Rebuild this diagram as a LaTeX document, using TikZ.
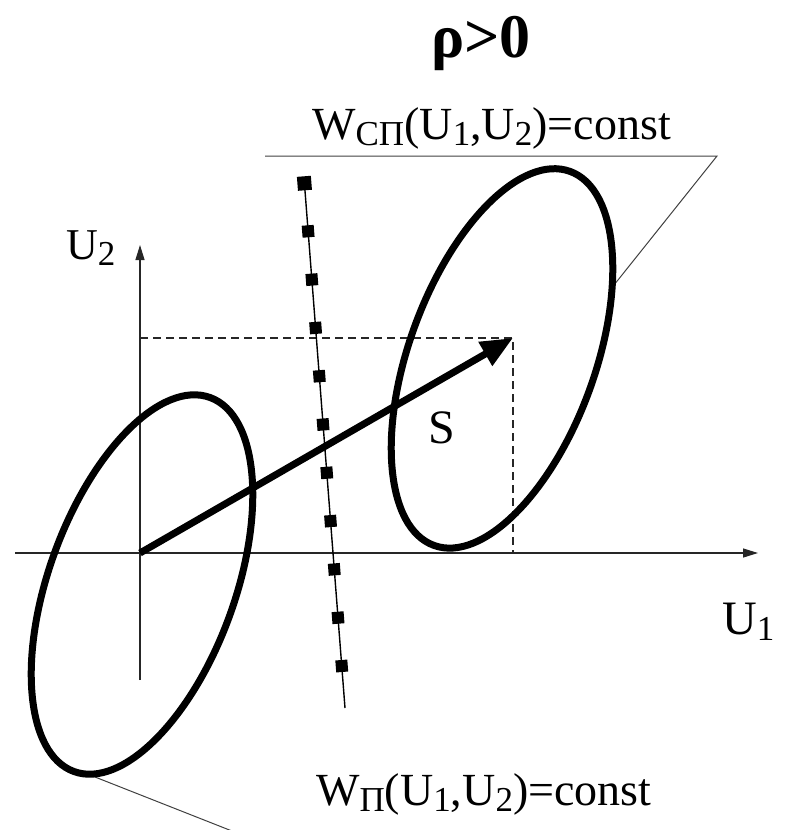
\documentclass[tikz,border=0pt]{standalone}
\usepackage{fontspec}
\setmainfont{Liberation Serif}
\usetikzlibrary{arrows.meta}
\newcommand{\mysub}[1]{\raisebox{-6pt}{\fontsize{35}{35}\selectfont #1}}
\begin{document}
\begin{tikzpicture}[x=1pt,y=-1pt,
  axisline/.style={line width=1.3pt, black!85, -{Triangle[length=15pt,width=9pt]}},
  ell/.style={line width=7pt},
  dashline/.style={line width=1.2pt, black!85, dash pattern=on 8pt off 5pt},
  planeline/.style={line width=1pt, black!75},
  vecarrow/.style={line width=7pt, -{Triangle[length=32pt,width=26pt]}},
  sq/.style={fill, minimum size=12pt, inner sep=0pt, rotate=4.4},
  lbl/.style={inner sep=0pt, anchor=base west}]
\useasboundingbox (0,0) rectangle (785,830);
% coordinates
\coordinate (O) at (140,553);
\coordinate (xs) at (15,553);
\coordinate (xe) at (758,553);
\coordinate (ys) at (140,680);
\coordinate (ye) at (140,245);
\coordinate (P) at (513,338);
\coordinate (Px) at (513,553);
\coordinate (Py) at (140,338);
\coordinate (EL) at (142,584.5);
\coordinate (ER) at (502,358.4);
\coordinate (T1) at (265,156);
\coordinate (T2) at (717,156);
\coordinate (T3) at (614,285);
\coordinate (B1) at (95,777);
\coordinate (B2) at (232,831);
\coordinate (D1) at (304,178);
\coordinate (D2) at (345,708);
% axes
\draw[axisline] (xs) -- (xe);
\draw[axisline] (ys) -- (ye);
% dashed projections
\draw[dashline] (Py) -- (P) -- (Px);
% planes
\draw[planeline] (T1) -- (T2) -- (T3);
\draw[planeline] (B1) -- (B2);
% dotted (square-marked) line
\draw[line width=1.4pt] (D1) -- (D2)
  foreach \k in {1,...,10} { node[sq, pos={(5+48.3*\k)/530}] {} }
  node[sq, minimum size=14pt, pos=0.01] {};
% ellipses
\draw[ell, rotate around={-20:(EL)}] (EL) ellipse [x radius=93pt, y radius=199pt];
\draw[ell, rotate around={-20:(ER)}] (ER) ellipse [x radius=93pt, y radius=199pt];
% vector S
\draw[vecarrow] (O) -- (P);
% labels
\node[lbl] (title) at (431,57) {\fontsize{62}{62}\selectfont\bfseries ρ>0};
\node[lbl] (wcp) at (312,139) {\fontsize{46}{46}\selectfont W\mysub{CП}(U\mysub{1},U\mysub{2})=const};
\node[lbl] (wp) at (316,805) {\fontsize{46}{46}\selectfont W\mysub{П}(U\mysub{1},U\mysub{2})=const};
\node[lbl] (u2) at (66,259) {\fontsize{44}{44}\selectfont U\mysub{2}};
\node[lbl] (u1) at (722,634) {\fontsize{48}{48}\selectfont U\mysub{1}};
\node[lbl] (s) at (428,443) {\fontsize{48}{48}\selectfont S};
\end{tikzpicture}
\end{document}
